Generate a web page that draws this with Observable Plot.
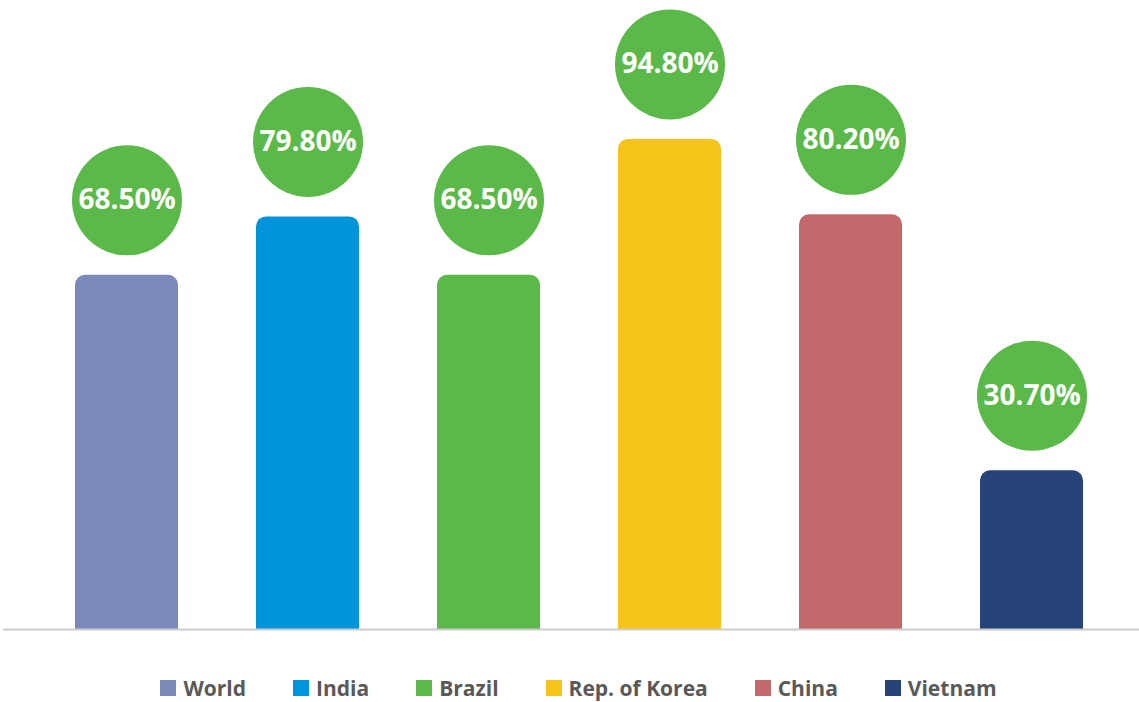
<!DOCTYPE html>
<html>
<head>
<meta charset="utf-8">
<script src="https://cdn.jsdelivr.net/npm/d3@7"></script>
<script src="https://cdn.jsdelivr.net/npm/@observablehq/plot@0.6"></script>
<style>
  body { margin: 0; background: #fff; font-family: "Open Sans", sans-serif; }
  #chart { width: 1139px; }
  .legend { display: flex; justify-content: center; align-items: center; gap: 47px; height: 52px; padding-top: 12px; font-family: "Open Sans", sans-serif; font-weight: bold; font-size: 21px; color: #595959; padding-left: 18px; }
  .legend .item { display: flex; align-items: center; gap: 7px; }
  .legend .sw { width: 16px; height: 16px; display: inline-block; }
</style>
</head>
<body>
<div id="chart"></div>
<script>
const countries = ["World", "India", "Brazil", "Rep. of Korea", "China", "Vietnam"];
const values = [68.5, 79.8, 68.5, 94.8, 80.2, 30.7];
const colors = ["#7B8AB8", "#0095DA", "#5BB94A", "#F6C318", "#C3686B", "#264478"];
const labels = ["68.50%", "79.80%", "68.50%", "94.80%", "80.20%", "30.70%"];

const data = countries.map((c, i) => ({country: c, value: values[i], label: labels[i], color: colors[i]}));

const plot = Plot.plot({
  width: 1139,
  height: 650,
  marginTop: 112,
  marginBottom: 21,
  marginLeft: 34,
  marginRight: 15,
  x: {domain: countries, paddingInner: 0.43, paddingOuter: 0.215, axis: null},
  y: {domain: [0, 100], axis: null},
  marks: [
    Plot.barY(data, {x: "country", y: "value", fill: "color", rx: 10}),
    Plot.barY(data, {x: "country", y1: 0, y2: d => Math.min(d.value, 5), fill: "color"}),
    Plot.ruleY([0], {stroke: "#cccccc", strokeWidth: 2, insetLeft: -31, insetRight: -15}),
    Plot.dot(data, {x: "country", y: "value", r: 55, dy: -75, fill: "#5BB94A", stroke: null}),
    Plot.text(data, {x: "country", y: "value", text: "label", dy: -75, fill: "white", fontSize: 28, fontWeight: "bold", fontFamily: "Open Sans"})
  ]
});
document.getElementById("chart").appendChild(plot);

const legend = document.createElement("div");
legend.className = "legend";
countries.forEach((c, i) => {
  const item = document.createElement("div");
  item.className = "item";
  const sw = document.createElement("span");
  sw.className = "sw";
  sw.style.background = colors[i];
  const t = document.createElement("span");
  t.textContent = c;
  item.appendChild(sw);
  item.appendChild(t);
  legend.appendChild(item);
});
document.getElementById("chart").appendChild(legend);
</script>
</body>
</html>
